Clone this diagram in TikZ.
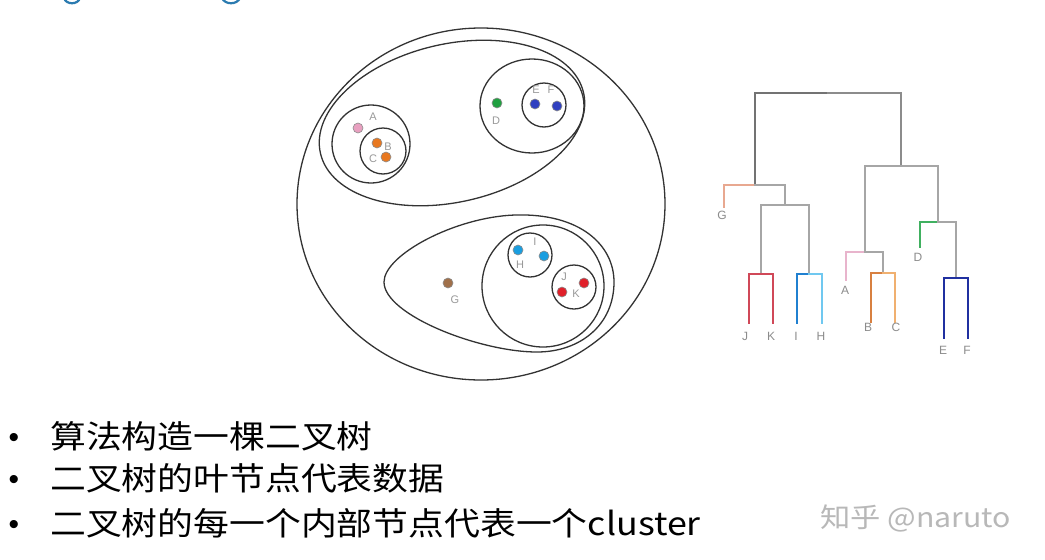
\documentclass[tikz,border=0pt]{standalone}
\usepackage{fontspec}
\setmainfont{Liberation Sans}
\newfontfamily\cjk[FakeStretch=1.12]{Noto Sans CJK SC}
\definecolor{titleblue}{HTML}{2B7BB0}
\definecolor{cA}{HTML}{E8A0C0}
\definecolor{cBC}{HTML}{E87820}
\definecolor{cD}{HTML}{20A040}
\definecolor{cEF}{HTML}{3040C0}
\definecolor{cHI}{HTML}{1A9EE0}
\definecolor{cJK}{HTML}{E0202A}
\definecolor{cG}{HTML}{A0704A}
\definecolor{lnG}{HTML}{E8A890}
\definecolor{lnJK}{HTML}{D04858}
\definecolor{lnI}{HTML}{2080D0}
\definecolor{lnH}{HTML}{70C8F0}
\definecolor{lnA}{HTML}{E8B4CC}
\definecolor{lnB}{HTML}{D88040}
\definecolor{lnC}{HTML}{F0B070}
\definecolor{lnD}{HTML}{40B060}
\definecolor{lnEF}{HTML}{2030A0}
\tikzset{
  circ/.style={draw=black!80, line width=1.3pt},
  dot/.style={circle, inner sep=0pt, minimum size=10pt, draw=black!45, line width=0.6pt},
  lab/.style={text=black!40, font=\fontsize{11}{11}\selectfont, inner sep=0pt},
  dend/.style={line width=1.5pt, draw=black!35, line cap=rect},
  dlab/.style={text=black!45, font=\fontsize{12}{12}\selectfont, inner sep=0pt},
  bline/.style={anchor=base west, inner sep=0pt, font=\cjk\fontsize{32}{32}\selectfont},
  bul/.style={anchor=base, inner sep=0pt, font=\fontsize{30}{30}\selectfont}
}
\begin{document}
\begin{tikzpicture}[x=1pt,y=-1pt]
\useasboundingbox (0,0) rectangle (1045,560);
\fill[white] (0,0) rectangle (1045,560);
% cut-off title fragments
\draw[titleblue, line width=2.2pt] (64,-2) .. controls (66,5) and (78,5) .. (80,-2);
\draw[titleblue, line width=2.2pt] (222,-2) .. controls (225,5) and (237,5) .. (240,-2);

% ---- nested clusters ----
\draw[circ] (481,204) ellipse [x radius=184, y radius=176];
\draw[circ] (452,123) ellipse [x radius=135, y radius=79, rotate=13];
\draw[circ] (371,144) circle [radius=39];
\draw[circ] (383,151) circle [radius=23];
\draw[circ] (532,106) ellipse [x radius=52, y radius=47];
\draw[circ] (544,105) circle [radius=22];
\draw[circ] (384,282) .. controls (384,255) and (455,217) .. (515,215)
  .. controls (580,213) and (614,245) .. (614,282)
  .. controls (614,325) and (580,352) .. (537,352)
  .. controls (480,352) and (384,315) .. (384,282) -- cycle;
\draw[circ] (543,286) circle [radius=61];
\draw[circ] (530,255) circle [radius=22];
\draw[circ] (574,287) circle [radius=22];

\node[dot, fill=cA]  (pA) at (358,128) {};
\node[dot, fill=cBC] (pB) at (377,143) {};
\node[dot, fill=cBC] (pC) at (386,157) {};
\node[dot, fill=cD]  (pD) at (497,103) {};
\node[dot, fill=cEF] (pE) at (535,104) {};
\node[dot, fill=cEF] (pF) at (557,106) {};
\node[dot, fill=cG]  (pG) at (448,283) {};
\node[dot, fill=cHI] (pH) at (518,250) {};
\node[dot, fill=cHI] (pI) at (544,256) {};
\node[dot, fill=cJK] (pJ) at (584,283) {};
\node[dot, fill=cJK] (pK) at (562,292) {};

\node[lab] (lA) at (373,117) {A};
\node[lab] (lB) at (388,147) {B};
\node[lab] (lC) at (373,159) {C};
\node[lab] (lD) at (496,121) {D};
\node[lab] (lE) at (536,90) {E};
\node[lab] (lF) at (551,90) {F};
\node[lab] (lG) at (455,300) {G};
\node[lab] (lI) at (535,242) {I};
\node[lab] (lH) at (520,265) {H};
\node[lab] (lJ) at (564,277) {J};
\node[lab] (lK) at (576,294) {K};

% ---- dendrogram ----
\coordinate (root) at (828,93);
\coordinate (L)  at (755,185);
\coordinate (N1) at (785,205);
\coordinate (N2) at (761,274);
\coordinate (N3) at (809,274);
\coordinate (Rt) at (901,166);
\coordinate (N4) at (865,252);
\coordinate (N6) at (883,273);
\coordinate (N5) at (938,222);
\coordinate (N7) at (956,278);
\coordinate (G) at (724,207);
\coordinate (J) at (749,323);
\coordinate (K) at (773,323);
\coordinate (I) at (797,323);
\coordinate (H) at (822,323);
\coordinate (A) at (846,280);
\coordinate (B) at (871,322);
\coordinate (C) at (895,322);
\coordinate (D) at (920,247);
\coordinate (E) at (944,338);
\coordinate (F) at (968,338);

\draw[dend, draw=black!55, line width=2pt] (root) -| (L);
\draw[dend, draw=black!45, line width=2pt] (root) -| (Rt);
\draw[dend, draw=lnG] (L) -| (G);
\draw[dend] (L) -| (N1);
\draw[dend] (N1) -| (N2);
\draw[dend] (N1) -| (N3);
\draw[dend, draw=lnJK] (N2) -| (J);
\draw[dend, draw=lnJK] (N2) -| (K);
\draw[dend, draw=lnI] (N3) -| (I);
\draw[dend, draw=lnH] (N3) -| (H);
\draw[dend] (Rt) -| (N4);
\draw[dend] (Rt) -| (N5);
\draw[dend, draw=lnA] (N4) -| (A);
\draw[dend] (N4) -| (N6);
\draw[dend, draw=lnB] (N6) -| (B);
\draw[dend, draw=lnC] (N6) -| (C);
\draw[dend, draw=lnD] (N5) -| (D);
\draw[dend] (N5) -| (N7);
\draw[dend, draw=lnEF] (N7) -| (E);
\draw[dend, draw=lnEF] (N7) -| (F);

\node[dlab] (tG) at (722,215) {G};
\node[dlab] (tJ) at (745,336) {J};
\node[dlab] (tK) at (771,336) {K};
\node[dlab] (tI) at (796,336) {I};
\node[dlab] (tH) at (821,336) {H};
\node[dlab] (tA) at (845,290) {A};
\node[dlab] (tB) at (868,327) {B};
\node[dlab] (tC) at (896,327) {C};
\node[dlab] (tD) at (918,257) {D};
\node[dlab] (tE) at (943,350) {E};
\node[dlab] (tF) at (967,350) {F};

% ---- bullets ----
\node[bul] (b1) at (14,447) {•};
\node[bul] (b2) at (14,489) {•};
\node[bul] (b3) at (14,534) {•};
\node[bline] (t1) at (50,448) {算法构造一棵二叉树};
\node[bline] (t2) at (50,490) {二叉树的叶节点代表数据};
\node[bline] (t3) at (50,535) {二叉树的每一个内部节点代表一个cluster};

\node[anchor=base west, inner sep=0pt, text=black!28, font=\cjk\fontsize{27}{27}\selectfont] (wm) at (820,527) {知乎 @naruto};
\end{tikzpicture}
\end{document}
